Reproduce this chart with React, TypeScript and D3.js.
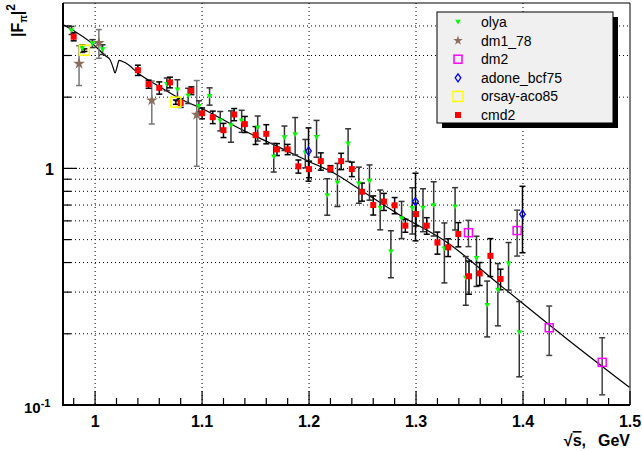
import * as d3 from 'd3';

// [sqrt(s), |F|^2, error]
const olya: number[][] = [
  [0.978, 3.83, 0.15], [0.988, 3.21, 0.12], [0.9975, 3.37, 0.13], [1.007, 3.18, 0.15],
  [1.067, 2.27, 0.14], [1.077, 2.15, 0.22], [1.087, 2.03, 0.15], [1.097, 1.83, 0.1],
  [1.107, 2.02, 0.17], [1.117, 1.59, 0.15], [1.127, 1.52, 0.23], [1.137, 1.59, 0.17],
  [1.152, 1.485, 0.18], [1.167, 1.12, 0.155], [1.177, 1.35, 0.16], [1.187, 1.39, 0.25],
  [1.1965, 1.165, 0.16], [1.207, 1.355, 0.24], [1.217, 0.769, 0.135], [1.2265, 0.87, 0.18],
  [1.2365, 1.27, 0.2], [1.2465, 0.862, 0.15], [1.2565, 0.884, 0.15], [1.2665, 0.68, 0.13],
  [1.2765, 0.445, 0.1], [1.2865, 0.615, 0.11], [1.2965, 0.678, 0.15], [1.3065, 0.68, 0.14],
  [1.3165, 0.698, 0.18], [1.3265, 0.458, 0.13], [1.3365, 0.689, 0.14], [1.3465, 0.344, 0.08],
  [1.3565, 0.417, 0.1], [1.3665, 0.264, 0.07], [1.3765, 0.306, 0.09], [1.3865, 0.396, 0.09],
  [1.3965, 0.2026, 0.071],
];

const cmd2: number[][] = [
  [0.98, 3.6, 0.14], [1.04, 2.6, 0.13], [1.05, 2.27, 0.09], [1.06, 2.19, 0.13],
  [1.07, 2.31, 0.12], [1.08, 1.89, 0.08], [1.09, 2.13, 0.08], [1.1, 1.71, 0.09],
  [1.11, 1.646, 0.1], [1.12, 1.45, 0.1], [1.13, 1.69, 0.1], [1.14, 1.538, 0.12],
  [1.15, 1.382, 0.12], [1.16, 1.4, 0.13], [1.17, 1.203, 0.07], [1.18, 1.203, 0.06],
  [1.19, 1.02, 0.065], [1.2, 0.993, 0.08], [1.211, 1.073, 0.09], [1.22, 0.997, 0.03],
  [1.23, 1.073, 0.085], [1.24, 0.993, 0.07], [1.2495, 0.797, 0.07], [1.26, 0.7, 0.065],
  [1.27, 0.724, 0.06], [1.28, 0.698, 0.055], [1.29, 0.573, 0.036], [1.3, 0.641, 0.07],
  [1.31, 0.573, 0.046], [1.32, 0.486, 0.052], [1.33, 0.464, 0.04], [1.3395, 0.528, 0.062],
  [1.3495, 0.35, 0.056], [1.3595, 0.36, 0.04], [1.3695, 0.427, 0.078], [1.379, 0.341, 0.034],
];

const dm1_78: number[][] = [[0.985, 2.77, 0.53], [1.0035, 3.39, 0.47], [1.053, 1.94, 0.4], [1.095, 1.686, 0.665]];
const dm2: number[][] = [[1.349, 0.535, 0.068], [1.3945, 0.546, 0.12], [1.4245, 0.212, 0.05], [1.474, 0.1514, 0.041]];
const adone: number[][] = [[1.1995, 1.183, 0.3], [1.2995, 0.724, 0.23], [1.3995, 0.64, 0.2]];
const orsay: number[][] = [[0.99, 3.16, 0.04], [1.0755, 1.905, 0.04]];

const fitX = [0.9704, 0.9984, 1.0093, 1.014, 1.0168, 1.0187, 1.0206, 1.0224, 1.028, 1.0405, 1.0607, 1.0794,
  1.1021, 1.1355, 1.1636, 1.2, 1.2236, 1.2477, 1.285, 1.3271, 1.3785, 1.4393, 1.4994];
const fitY = [4.05, 3.34, 3.0, 2.88, 2.67, 2.53, 2.69, 2.86, 2.8, 2.52, 2.21, 1.97,
  1.77, 1.47, 1.28, 1.07, 0.953, 0.813, 0.634, 0.493, 0.321, 0.193, 0.1188];

const xMajor = [1, 1.1, 1.2, 1.3, 1.4, 1.5];
const xMajorLabels = ['1', '1.1', '1.2', '1.3', '1.4', '1.5'];
const yGrid = [0.2, 0.3, 0.4, 0.5, 0.6, 0.7, 0.8, 0.9, 1, 2, 3, 4];
const legendNames = ['olya', 'dm1_78', 'dm2', 'adone_bcf75', 'orsay-aco85', 'cmd2'];

const font = 'Liberation Sans, Arial, Helvetica, sans-serif';

export default function App() {
  const left = 63, right = 630, top = 3, bottom = 405;
  const x = d3.scaleLinear().domain([0.97, 1.5]).range([left, right]);
  const y = d3.scaleLog().domain([0.1, 5]).range([bottom, top]);
  const xMinor = d3.range(0.98, 1.5, 0.02).filter((v) => !xMajor.some((m) => Math.abs(m - v) < 1e-6));

  const fitLine = d3
    .line<number>()
    .x((_, i) => x(fitX[i]))
    .y((d) => y(d))
    .curve(d3.curveMonotoneX);

  const star = d3.symbol(d3.symbolStar, 42)() ?? '';
  const smallStar = d3.symbol(d3.symbolStar, 28)() ?? '';
  const triDown = 'M-2.8,-2.2L2.8,-2.2L0,2.6Z';

  const errBars = (data: number[][], color: string, key: string) =>
    data.map(([sx, v, e], i) => {
      const cx = x(sx);
      const y1 = y(v + e);
      const y2 = y(Math.max(v - e, 0.1001));
      return (
        <g key={`${key}-${i}`} stroke={color} strokeWidth={1.5}>
          <line x1={cx} x2={cx} y1={y1} y2={y2} />
          <line x1={cx - 3} x2={cx + 3} y1={y1} y2={y1} />
          <line x1={cx - 3} x2={cx + 3} y1={y2} y2={y2} />
        </g>
      );
    });

  const markers: Record<string, (cx: number, cy: number, k: string, inLegend?: boolean) => JSX.Element> = {
    olya: (cx, cy, k) => <path key={k} d={triDown} transform={`translate(${cx},${cy})`} fill="#00ff00" />,
    dm1_78: (cx, cy, k, inLegend) => (
      <path key={k} d={inLegend ? smallStar : star} transform={`translate(${cx},${cy})`} fill="#8c6e5e" />
    ),
    dm2: (cx, cy, k) => <rect key={k} x={cx - 4} y={cy - 4} width={8} height={8} fill="none" stroke="#ff00ff" strokeWidth={1.5} />,
    adone_bcf75: (cx, cy, k) => (
      <path key={k} d={`M${cx},${cy - 4}L${cx + 2.8},${cy}L${cx},${cy + 4}L${cx - 2.8},${cy}Z`} fill="none" stroke="#0000ff" strokeWidth={1.3} />
    ),
    'orsay-aco85': (cx, cy, k) => <rect key={k} x={cx - 5} y={cy - 5} width={10} height={10} fill="none" stroke="#ffff00" strokeWidth={1.5} />,
    cmd2: (cx, cy, k) => <rect key={k} x={cx - 3} y={cy - 3} width={6} height={6} fill="#ff0000" />,
  };

  const series: [string, number[][], string][] = [
    ['dm1_78', dm1_78, '#777'],
    ['olya', olya, '#333'],
    ['cmd2', cmd2, '#000'],
    ['dm2', dm2, '#444'],
    ['adone_bcf75', adone, '#000'],
    ['orsay-aco85', orsay, '#000'],
  ];

  const lg = { x: 437, y: 12, w: 176, h: 111 };
  const rowY = d3.scalePoint<string>().domain(legendNames).range([22, 115]);

  return (
    <svg width={642} height={451} style={{ position: 'absolute', left: 0, top: 0, background: '#fff' }} fontFamily={font}>
      <rect x={0} y={0} width={642} height={451} fill="#fff" />
      {/* grid */}
      <g stroke="#000" strokeWidth={1} strokeDasharray="1 3">
        {xMajor.slice(0, -1).map((v) => (
          <line key={v} x1={x(v)} x2={x(v)} y1={top} y2={bottom} />
        ))}
        {yGrid.map((v) => (
          <line key={v} x1={left} x2={right} y1={y(v)} y2={y(v)} />
        ))}
      </g>
      {/* fit */}
      <path d={fitLine(fitY) ?? ''} fill="none" stroke="#000" strokeWidth={1.2} />
      {/* data */}
      {series.map(([name, data, color]) => errBars(data, color, name))}
      {series.map(([name, data]) => data.map(([sx, v], i) => markers[name](x(sx), y(v), `${name}-m${i}`)))}
      {/* frame */}
      <line x1={left} x2={right} y1={top} y2={top} stroke="#000" strokeWidth={1} />
      <line x1={right} x2={right} y1={top} y2={bottom} stroke="#000" strokeWidth={1} />
      <line x1={left} x2={left} y1={top} y2={bottom + 1} stroke="#000" strokeWidth={2} />
      <line x1={left - 1} x2={right} y1={bottom} y2={bottom} stroke="#000" strokeWidth={2} />
      {/* ticks */}
      <g stroke="#000" strokeWidth={1.2}>
        {xMajor.map((v) => (
          <line key={v} x1={x(v)} x2={x(v)} y1={bottom} y2={bottom - 14} />
        ))}
        {xMinor.map((v) => (
          <line key={v} x1={x(v)} x2={x(v)} y1={bottom} y2={bottom - 7} />
        ))}
        {yGrid.map((v) => (
          <line key={v} x1={left} x2={left + (v === 1 ? 14 : 8)} y1={y(v)} y2={y(v)} />
        ))}
      </g>
      <g fontSize={16} fontWeight="bold" textAnchor="middle">
        {xMajor.map((v, i) => (
          <text key={v} x={x(v)} y={427}>
            {xMajorLabels[i]}
          </text>
        ))}
      </g>
      <text x={54} y={175} fontSize={16} fontWeight="bold" textAnchor="end">1</text>
      <text x={24} y={413} fontSize={15} fontWeight="bold">
        10<tspan dy={-6} fontSize={11}>-1</tspan>
      </text>
      {/* axis titles */}
      <text x={630} y={446} fontSize={16} fontWeight="bold" textAnchor="end">
        √<tspan style={{ textDecoration: 'overline' }}>s</tspan>,<tspan dx={12}>GeV</tspan>
      </text>
      <text transform="translate(23,4) rotate(-90)" fontSize={16} fontWeight="bold" textAnchor="end">
        |F<tspan dy={4} fontSize={10}>π</tspan>
        <tspan dy={-4}>|</tspan>
        <tspan dy={-8} fontSize={12}>2</tspan>
      </text>
      {/* legend */}
      <rect x={lg.x + 5} y={lg.y + 5} width={lg.w} height={lg.h} fill="#000" />
      <rect x={lg.x} y={lg.y} width={lg.w} height={lg.h} fill="#f0f0f0" stroke="#000" strokeWidth={1} />
      {legendNames.map((name) => (
        <g key={name}>
          {markers[name](458, rowY(name) ?? 0, `lg-${name}`, true)}
          <text x={481} y={(rowY(name) ?? 0) + 5} fontSize={14}>
            {name}
          </text>
        </g>
      ))}
    </svg>
  );
}
